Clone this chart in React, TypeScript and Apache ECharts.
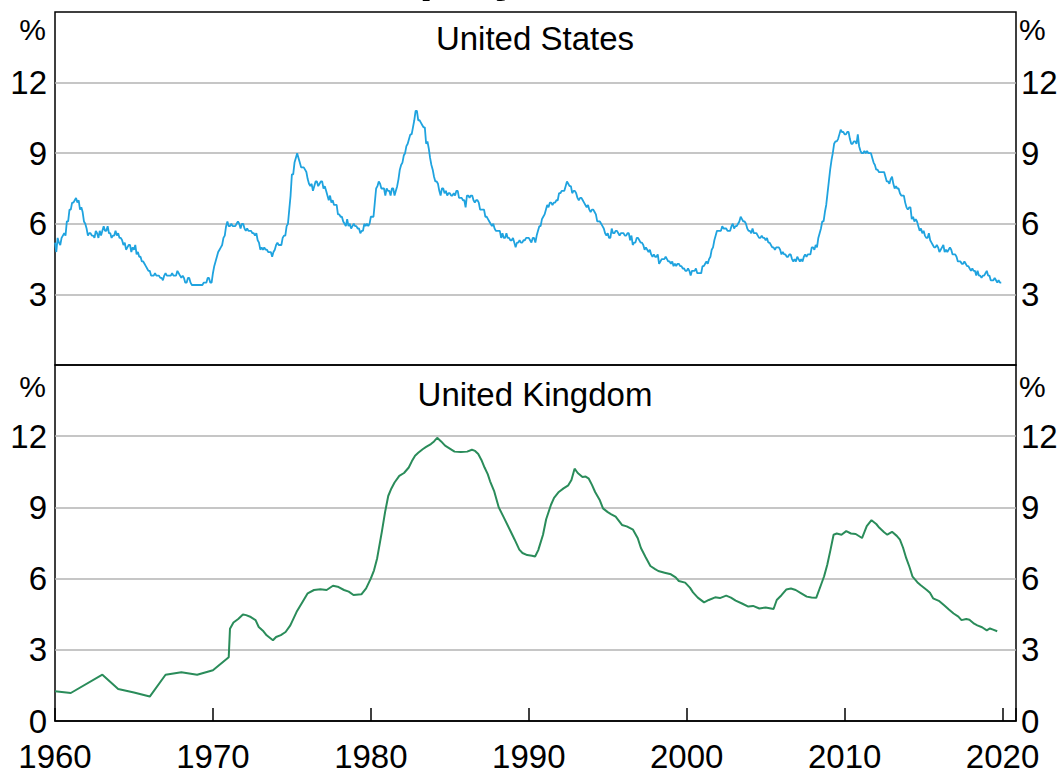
import React, { useEffect, useRef } from "react";
import * as echarts from "echarts";

// US monthly unemployment rate (%), Jan 1960 – Dec 2019
const US_1960S = [
  5.2, 4.8, 5.4, 5.2, 5.1, 5.4, 5.5, 5.6, 5.5, 6.1, 6.1, 6.6,
  6.6, 6.9, 6.9, 7.0, 7.1, 6.9, 7.0, 6.6, 6.7, 6.5, 6.1, 6.0,
  5.8, 5.5, 5.6, 5.6, 5.5, 5.5, 5.4, 5.7, 5.6, 5.4, 5.7, 5.5,
  5.7, 5.9, 5.7, 5.7, 5.9, 5.6, 5.6, 5.4, 5.5, 5.5, 5.7, 5.5,
  5.6, 5.4, 5.4, 5.3, 5.1, 5.2, 4.9, 5.0, 5.1, 5.1, 4.8, 5.0,
  4.9, 5.1, 4.7, 4.8, 4.6, 4.6, 4.4, 4.4, 4.3, 4.2, 4.1, 4.0,
  4.0, 3.8, 3.8, 3.8, 3.9, 3.8, 3.8, 3.8, 3.7, 3.7, 3.6, 3.8,
  3.9, 3.8, 3.8, 3.8, 3.8, 3.9, 3.8, 3.8, 3.8, 4.0, 3.9, 3.8,
  3.7, 3.8, 3.7, 3.5, 3.5, 3.7, 3.7, 3.5, 3.4, 3.4, 3.4, 3.4,
  3.4, 3.4, 3.4, 3.4, 3.4, 3.5, 3.5, 3.5, 3.7, 3.7, 3.5, 3.5,
];
const US_1970S = [
  3.9, 4.2, 4.4, 4.6, 4.8, 4.9, 5.0, 5.1, 5.4, 5.5, 5.9, 6.1,
  5.9, 5.9, 6.0, 5.9, 5.9, 5.9, 6.0, 6.1, 6.0, 5.8, 6.0, 6.0,
  5.8, 5.7, 5.8, 5.7, 5.7, 5.7, 5.6, 5.6, 5.5, 5.6, 5.3, 5.2,
  4.9, 5.0, 4.9, 5.0, 4.9, 4.9, 4.8, 4.8, 4.8, 4.6, 4.8, 4.9,
  5.1, 5.2, 5.1, 5.1, 5.1, 5.4, 5.5, 5.5, 5.9, 6.0, 6.6, 7.2,
  8.1, 8.1, 8.6, 8.8, 9.0, 8.8, 8.6, 8.4, 8.4, 8.4, 8.3, 8.2,
  7.9, 7.7, 7.6, 7.7, 7.4, 7.6, 7.8, 7.8, 7.6, 7.7, 7.8, 7.8,
  7.5, 7.6, 7.4, 7.2, 7.0, 7.2, 6.9, 7.0, 6.8, 6.8, 6.8, 6.4,
  6.4, 6.3, 6.3, 6.1, 6.0, 5.9, 6.2, 5.9, 6.0, 5.8, 5.9, 6.0,
  5.9, 5.9, 5.8, 5.8, 5.6, 5.7, 5.7, 6.0, 5.9, 6.0, 5.9, 6.0,
];
const US_1980S = [
  6.3, 6.3, 6.3, 6.9, 7.5, 7.6, 7.8, 7.7, 7.5, 7.5, 7.5, 7.2,
  7.5, 7.4, 7.4, 7.2, 7.5, 7.5, 7.2, 7.4, 7.6, 7.9, 8.3, 8.5,
  8.6, 8.9, 9.0, 9.3, 9.4, 9.6, 9.8, 9.8, 10.1, 10.4, 10.8, 10.8,
  10.4, 10.4, 10.3, 10.2, 10.1, 10.1, 9.4, 9.5, 9.2, 8.8, 8.5, 8.3,
  8.0, 7.8, 7.8, 7.7, 7.4, 7.2, 7.5, 7.5, 7.3, 7.4, 7.2, 7.3,
  7.3, 7.2, 7.2, 7.3, 7.2, 7.4, 7.4, 7.1, 7.1, 7.1, 7.0, 7.0,
  6.7, 7.2, 7.2, 7.1, 7.2, 7.2, 7.0, 6.9, 7.0, 7.0, 6.9, 6.6,
  6.6, 6.6, 6.6, 6.3, 6.3, 6.2, 6.1, 6.0, 5.9, 6.0, 5.8, 5.7,
  5.7, 5.7, 5.7, 5.4, 5.6, 5.4, 5.4, 5.6, 5.4, 5.4, 5.3, 5.3,
  5.4, 5.2, 5.0, 5.2, 5.2, 5.3, 5.2, 5.2, 5.3, 5.3, 5.4, 5.4,
];
const US_1990S = [
  5.4, 5.3, 5.2, 5.4, 5.4, 5.2, 5.5, 5.7, 5.9, 5.9, 6.2, 6.3,
  6.4, 6.6, 6.8, 6.7, 6.9, 6.9, 6.8, 6.9, 6.9, 7.0, 7.0, 7.3,
  7.3, 7.4, 7.4, 7.4, 7.6, 7.8, 7.7, 7.6, 7.6, 7.3, 7.4, 7.4,
  7.3, 7.1, 7.0, 7.1, 7.1, 7.0, 6.9, 6.8, 6.7, 6.8, 6.6, 6.5,
  6.6, 6.6, 6.5, 6.4, 6.1, 6.1, 6.1, 6.0, 5.9, 5.8, 5.6, 5.5,
  5.6, 5.4, 5.4, 5.8, 5.6, 5.6, 5.7, 5.7, 5.6, 5.5, 5.6, 5.6,
  5.6, 5.5, 5.5, 5.6, 5.6, 5.3, 5.5, 5.1, 5.2, 5.2, 5.4, 5.4,
  5.3, 5.2, 5.2, 5.1, 4.9, 5.0, 4.9, 4.8, 4.9, 4.7, 4.6, 4.7,
  4.6, 4.6, 4.7, 4.3, 4.4, 4.5, 4.5, 4.5, 4.6, 4.5, 4.4, 4.4,
  4.3, 4.4, 4.2, 4.3, 4.2, 4.3, 4.3, 4.2, 4.2, 4.1, 4.1, 4.0,
];
const US_2000S = [
  4.0, 4.1, 4.0, 3.8, 4.0, 4.0, 4.0, 4.1, 3.9, 3.9, 3.9, 3.9,
  4.2, 4.2, 4.3, 4.4, 4.3, 4.5, 4.6, 4.9, 5.0, 5.3, 5.5, 5.7,
  5.7, 5.7, 5.7, 5.9, 5.8, 5.8, 5.8, 5.7, 5.7, 5.7, 5.9, 6.0,
  5.8, 5.9, 5.9, 6.0, 6.1, 6.3, 6.2, 6.1, 6.1, 6.0, 5.8, 5.7,
  5.7, 5.6, 5.8, 5.6, 5.6, 5.6, 5.5, 5.4, 5.4, 5.5, 5.4, 5.4,
  5.3, 5.4, 5.2, 5.2, 5.1, 5.0, 5.0, 4.9, 5.0, 5.0, 5.0, 4.9,
  4.7, 4.8, 4.7, 4.7, 4.6, 4.6, 4.7, 4.7, 4.5, 4.4, 4.5, 4.4,
  4.6, 4.5, 4.4, 4.5, 4.4, 4.6, 4.7, 4.6, 4.7, 4.7, 4.7, 5.0,
  5.0, 4.9, 5.1, 5.0, 5.4, 5.6, 5.8, 6.1, 6.1, 6.5, 6.8, 7.3,
  7.8, 8.3, 8.7, 9.0, 9.4, 9.5, 9.5, 9.6, 9.8, 10.0, 9.9, 9.9,
];
const US_2010S = [
  9.8, 9.8, 9.9, 9.9, 9.6, 9.4, 9.4, 9.5, 9.5, 9.4, 9.8, 9.3,
  9.1, 9.0, 9.0, 9.1, 9.0, 9.1, 9.0, 9.0, 9.0, 8.8, 8.6, 8.5,
  8.3, 8.3, 8.2, 8.2, 8.2, 8.2, 8.2, 8.0, 7.8, 7.8, 7.7, 7.9,
  8.0, 7.7, 7.5, 7.6, 7.5, 7.5, 7.3, 7.2, 7.2, 7.2, 6.9, 6.7,
  6.6, 6.7, 6.7, 6.2, 6.3, 6.1, 6.2, 6.1, 5.9, 5.7, 5.8, 5.6,
  5.7, 5.5, 5.4, 5.4, 5.6, 5.3, 5.2, 5.1, 5.0, 5.0, 5.1, 5.0,
  4.8, 4.9, 5.0, 5.1, 4.8, 4.9, 4.8, 4.9, 5.0, 4.9, 4.7, 4.7,
  4.7, 4.6, 4.4, 4.4, 4.4, 4.3, 4.3, 4.4, 4.3, 4.2, 4.2, 4.1,
  4.0, 4.1, 4.0, 4.0, 3.8, 4.0, 3.8, 3.8, 3.7, 3.8, 3.8, 3.9,
  4.0, 3.8, 3.8, 3.6, 3.6, 3.6, 3.7, 3.6, 3.5, 3.6, 3.5, 3.5,
];
const US_START_YEAR = 1960;

// UK unemployment rate (%): annual points in the 1960s, then monthly readings
const UK_DATES = [
  1960.0, 1961.0, 1963.0, 1964.0, 1965.0, 1966.0, 1967.0, 1968.0, 1969.0, 1970.0, 1971.0,
  1971.08, 1971.3, 1971.6, 1971.9, 1972.1, 1972.4, 1972.7, 1972.9, 1973.2, 1973.4, 1973.8,
  1974.0, 1974.3, 1974.6, 1974.9, 1975.3, 1975.7, 1976.0, 1976.4, 1976.8, 1977.2, 1977.6,
  1977.9, 1978.3, 1978.6, 1978.9, 1979.4, 1979.7, 1980.0, 1980.2, 1980.4, 1980.7, 1980.9,
  1981.1, 1981.3, 1981.5, 1981.8, 1982.1, 1982.4, 1982.6, 1982.8, 1983.0, 1983.3, 1983.5,
  1983.8, 1984.0, 1984.2, 1984.45, 1984.7, 1985.0, 1985.3, 1985.7, 1986.1, 1986.4, 1986.6,
  1986.8, 1987.0, 1987.2, 1987.4, 1987.55, 1987.8, 1988.1, 1988.4, 1988.8, 1989.1, 1989.4,
  1989.6, 1989.9, 1990.2, 1990.4, 1990.6, 1990.9, 1991.1, 1991.4, 1991.6, 1991.9, 1992.2,
  1992.5, 1992.7, 1992.9, 1993.1, 1993.4, 1993.6, 1993.8, 1994.0, 1994.2, 1994.5, 1994.7,
  1995.0, 1995.2, 1995.5, 1995.9, 1996.2, 1996.6, 1996.9, 1997.1, 1997.4, 1997.7, 1998.0,
  1998.2, 1998.6, 1999.0, 1999.3, 1999.5, 1999.9, 2000.2, 2000.4, 2000.7, 2001.1, 2001.4,
  2001.8, 2002.1, 2002.5, 2002.8, 2003.1, 2003.5, 2003.9, 2004.2, 2004.6, 2005.0, 2005.5,
  2005.7, 2006.0, 2006.3, 2006.6, 2006.9, 2007.2, 2007.6, 2007.9, 2008.2, 2008.5, 2008.7,
  2008.9, 2009.1, 2009.3, 2009.5, 2009.8, 2010.1, 2010.4, 2010.7, 2011.1, 2011.4, 2011.7,
  2012.0, 2012.2, 2012.5, 2012.7, 2013.0, 2013.3, 2013.5, 2013.7, 2013.9, 2014.1, 2014.3,
  2014.6, 2014.8, 2015.2, 2015.4, 2015.6, 2016.0, 2016.3, 2016.6, 2016.9, 2017.2, 2017.4,
  2017.7, 2017.9, 2018.2, 2018.4, 2018.7, 2019.0, 2019.2, 2019.4, 2019.66,
];
const UK_RATES = [
  1.25, 1.18, 1.95, 1.35, 1.2, 1.03, 1.95, 2.05, 1.95, 2.14, 2.69,
  3.89, 4.15, 4.3, 4.49, 4.46, 4.38, 4.25, 3.96, 3.78, 3.61, 3.4,
  3.54, 3.62, 3.75, 4.03, 4.6, 5.05, 5.38, 5.52, 5.55, 5.52, 5.7,
  5.66, 5.52, 5.45, 5.31, 5.34, 5.59, 6.01, 6.35, 6.86, 7.99, 8.8,
  9.48, 9.8, 10.05, 10.33, 10.45, 10.68, 10.95, 11.18, 11.3, 11.46, 11.55,
  11.67, 11.78, 11.93, 11.78, 11.6, 11.48, 11.35, 11.33, 11.35, 11.43, 11.38,
  11.25, 11.0, 10.68, 10.4, 10.1, 9.7, 9.0, 8.6, 8.06, 7.65, 7.22,
  7.08, 6.99, 6.96, 6.93, 7.2, 7.85, 8.5, 9.1, 9.4, 9.65, 9.8,
  9.93, 10.15, 10.63, 10.45, 10.28, 10.3, 10.21, 9.95, 9.65, 9.3, 8.96,
  8.8, 8.72, 8.61, 8.26, 8.2, 8.06, 7.7, 7.29, 6.9, 6.53, 6.4,
  6.32, 6.25, 6.18, 6.05, 5.9, 5.83, 5.62, 5.42, 5.2, 5.0, 5.1,
  5.21, 5.18, 5.28, 5.2, 5.07, 4.95, 4.82, 4.85, 4.74, 4.78, 4.72,
  5.1, 5.3, 5.54, 5.58, 5.52, 5.4, 5.24, 5.2, 5.19, 5.73, 6.1,
  6.58, 7.2, 7.85, 7.9, 7.85, 8.0, 7.9, 7.88, 7.71, 8.21, 8.46,
  8.3, 8.14, 7.95, 7.85, 7.97, 7.8, 7.64, 7.3, 6.86, 6.5, 6.08,
  5.85, 5.73, 5.52, 5.4, 5.17, 5.05, 4.88, 4.7, 4.53, 4.4, 4.25,
  4.3, 4.27, 4.1, 4.03, 3.95, 3.82, 3.9, 3.85, 3.78,
];

const Y_TICKS = [0, 3, 6, 9, 12, 15];
const X_RANGE = [1960, 2020.85];
const TITLE = "Unemployment Rates";
const PANEL_TITLES = ["United States", "United Kingdom"];

const FONT = "'Liberation Sans', Arial, Helvetica, sans-serif";

export default function App() {
  const ref = useRef<HTMLDivElement>(null);

  useEffect(() => {
    if (!ref.current) return;
    const chart = echarts.init(ref.current, undefined, { renderer: "svg" });

    const usAll = [...US_1960S, ...US_1970S, ...US_1980S, ...US_1990S, ...US_2000S, ...US_2010S];
    const usData = usAll.map((v, i) => [US_START_YEAR + i / 12, v]);
    const ukData = UK_DATES.map((d, i) => [d, UK_RATES[i]]);

    const L = 55, R = 1016, T1 = 12, B1 = 365, B2 = 721;

    const xBase = (gridIndex: number, showLabels: boolean) => ({
      type: "value",
      gridIndex,
      min: X_RANGE[0],
      max: X_RANGE[1],
      interval: 10,
      axisLine: { show: showLabels, onZero: false, lineStyle: { color: "#000", width: 1.5 } },
      axisTick: {
        show: showLabels,
        inside: true,
        length: 13,
        lineStyle: { color: "#000", width: 1.5 },
      },
      axisLabel: {
        show: showLabels,
        fontSize: 33,
        color: "#000",
        fontFamily: FONT,
        margin: 19,
        formatter: (v: number) => (Math.abs(v % 10) < 1e-6 ? String(v) : ""),
      },
      splitLine: { show: false },
    });

    const yBase = (gridIndex: number, position: string, showSplit: boolean, hideZero: boolean) => ({
      type: "value",
      gridIndex,
      position,
      min: Y_TICKS[0],
      max: Y_TICKS[Y_TICKS.length - 1],
      interval: 3,
      axisLine: { show: false },
      axisTick: { show: false },
      axisLabel: {
        fontSize: 33,
        color: "#000",
        fontFamily: FONT,
        margin: position === "left" ? 8 : 5,
        formatter: (v: number) => {
          if (v === 15) return "";
          if (hideZero && v === 0) return "";
          return String(v);
        },
      },
      splitLine: {
        show: showSplit,
        showMinLine: false,
        showMaxLine: false,
        lineStyle: { color: "#b3b3b3", width: 1.5 },
      },
    });

    const pct = (x: number, y: number, align: string) => ({
      type: "text",
      x,
      y,
      style: {
        text: "%",
        fontSize: 30,
        fontFamily: FONT,
        fill: "#000",
        align,
        verticalAlign: "middle",
      },
    });

    chart.setOption({
      animation: false,
      backgroundColor: "#fff",
      grid: [
        { left: L, width: R - L, top: T1, height: B1 - T1, show: true, borderColor: "#000", borderWidth: 1.5, backgroundColor: "transparent" },
        { left: L, width: R - L, top: B1, height: B2 - B1, show: true, borderColor: "#000", borderWidth: 1.5, backgroundColor: "transparent" },
      ],
      xAxis: [xBase(0, false), xBase(1, true)],
      yAxis: [
        yBase(0, "left", true, true),
        yBase(0, "right", false, true),
        yBase(1, "left", true, false),
        yBase(1, "right", false, false),
      ],
      series: [
        {
          type: "line",
          name: PANEL_TITLES[0],
          xAxisIndex: 0,
          yAxisIndex: 0,
          data: usData,
          showSymbol: false,
          lineStyle: { color: "#1fa3df", width: 1.8 },
          itemStyle: { color: "#1fa3df" },
        },
        {
          type: "line",
          name: PANEL_TITLES[1],
          xAxisIndex: 1,
          yAxisIndex: 2,
          data: ukData,
          showSymbol: false,
          lineStyle: { color: "#2a8c5a", width: 2 },
          itemStyle: { color: "#2a8c5a" },
        },
      ],
      graphic: [
        {
          type: "text",
          x: 536,
          y: -1,
          style: {
            text: TITLE,
            fontSize: 50,
            fontWeight: "bold",
            fontFamily: FONT,
            fill: "#000",
            align: "center",
            verticalAlign: "bottom",
          },
        },
        {
          type: "text",
          x: 535,
          y: 38,
          style: { text: PANEL_TITLES[0], fontSize: 33, fontFamily: FONT, fill: "#000", align: "center", verticalAlign: "middle" },
        },
        {
          type: "text",
          x: 535,
          y: 394,
          style: { text: PANEL_TITLES[1], fontSize: 33, fontFamily: FONT, fill: "#000", align: "center", verticalAlign: "middle" },
        },
        pct(46, 29, "right"),
        pct(1019, 29, "left"),
        pct(46, 386, "right"),
        pct(1019, 386, "left"),
      ],
    });

    return () => chart.dispose();
  }, []);

  return (
    <div
      ref={ref}
      style={{ position: "fixed", left: 0, top: 0, width: 1064, height: 776 }}
    />
  );
}
